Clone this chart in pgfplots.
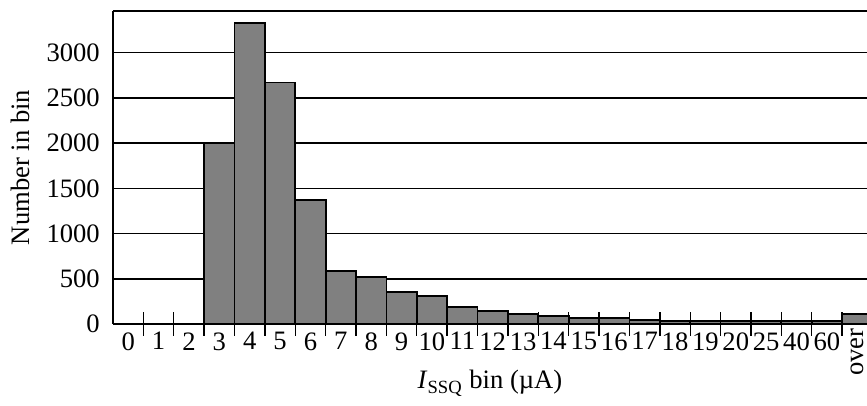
\documentclass[border=0pt]{standalone}
\usepackage{fontspec}
\setmainfont{Liberation Serif}
\usepackage{pgfplots}
\pgfplotsset{compat=1.18}
\definecolor{bargray}{HTML}{808080}
\begin{document}
\fontsize{13.3}{16}\selectfont
\begin{tikzpicture}
\path[use as bounding box] (-56.5pt,-41pt) rectangle (377pt,162pt);
\begin{axis}[
  scale only axis,
  width=377pt, height=156.5pt,
  at={(0,0)}, anchor=south west,
  xmin=-0.5, xmax=24.32,
  ymin=0, ymax=3460,
  axis y line*=left,
  axis line style={line width=0.9pt},
  ytick={0,500,1000,1500,2000,2500,3000},
  ymajorgrids,
  grid style={black, line width=0.8pt},
  ytick style={draw=none},
  xtick={0,1,...,23},
  xticklabels={0,1,2,3,4,5,6,7,8,9,10,11,12,13,14,15,16,17,18,19,20,25,40,60},
  minor xtick={0.5,1.5,...,23.5},
  xtick pos=left, xticklabel pos=left,
  major tick length=0pt,
  minor tick length=12pt,
  tick align=center,
  minor tick style={black, line width=0.7pt},
  /pgf/number format/assume math mode=true,
  /pgf/number format/1000 sep={},
  ticklabel style={font=\fontsize{13.3}{16}\selectfont},
  xticklabel style={inner sep=1pt, yshift=-3pt},
  yticklabel style={xshift=-2pt},
  xlabel={\textit{I}\textsubscript{SSQ} bin (µA)},
  xlabel style={at={(axis description cs:0.5,0)}, anchor=base, yshift=-32.5pt, font=\fontsize{13.3}{16}\selectfont},
  ylabel={Number in bin},
  ylabel style={at={(axis description cs:-0.1101,0.5)}, anchor=base, font=\fontsize{13.3}{16}\selectfont},
  clip=false,
]
\addplot[ybar, bar width=1, bar shift=0, fill=bargray, draw=black, line width=0.9pt]
  coordinates {
    (3,2000) (4,3330) (5,2670) (6,1372) (7,590) (8,516) (9,350) (10,313)
    (11,184) (12,144) (13,110) (14,92) (15,66) (16,66) (17,48)
    (18,29) (19,29) (20,29) (21,29) (22,29) (23,29) (24,110)
  };
\node[rotate=90, anchor=east, inner sep=0pt, font=\fontsize{13.3}{16}\selectfont] at ([yshift=-2pt]axis cs:24,0) {over};
\end{axis}
\end{tikzpicture}
\end{document}
